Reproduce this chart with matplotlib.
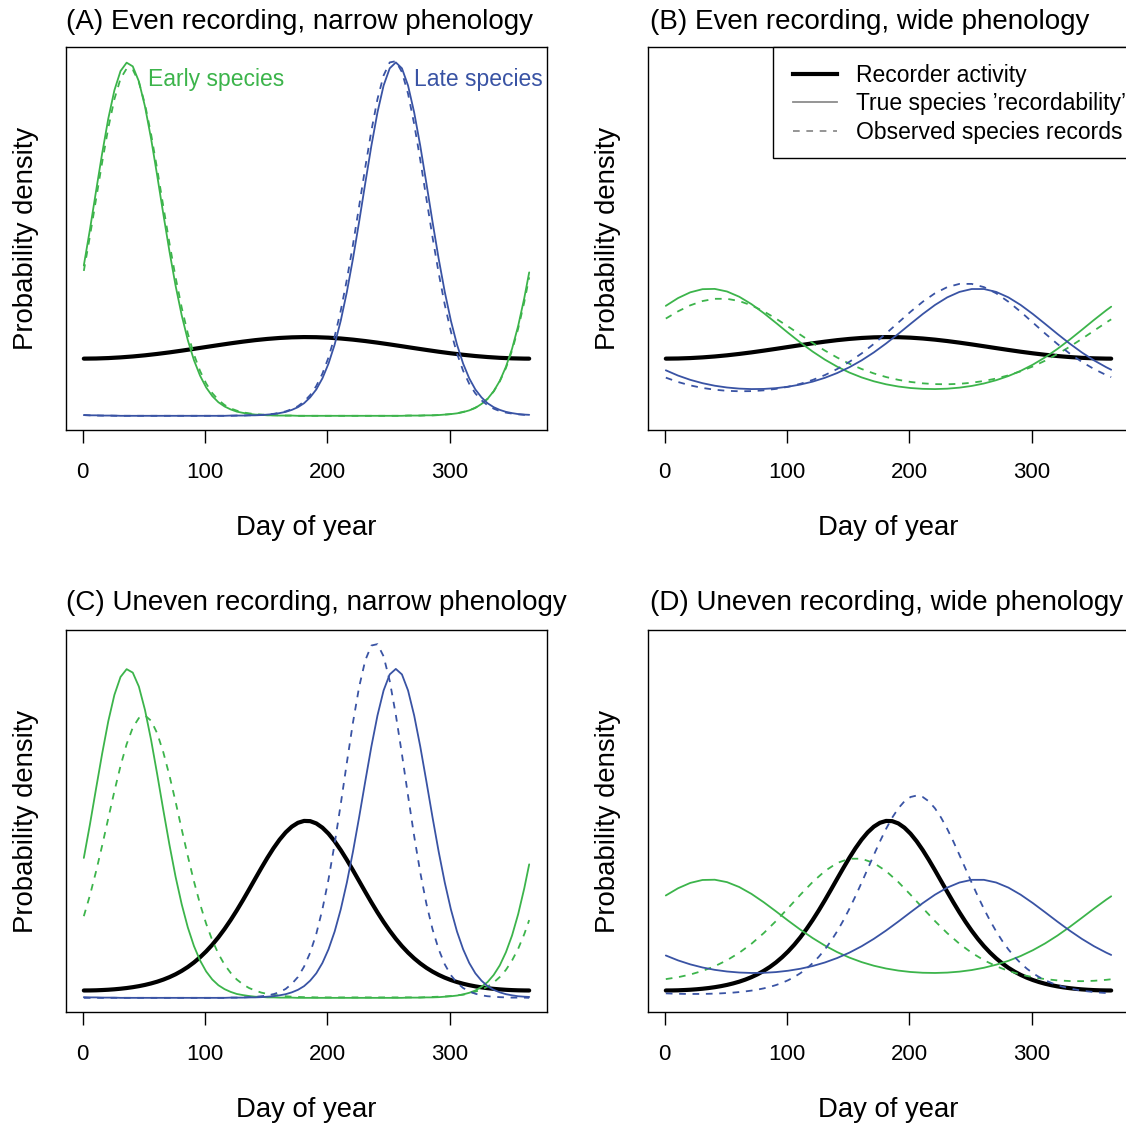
import matplotlib
matplotlib.use("Agg")
import matplotlib.pyplot as plt
from matplotlib.lines import Line2D
from matplotlib.patches import Rectangle

plt.rcParams['font.family'] = ['Liberation Sans', 'DejaVu Sans']

GREEN = '#3cb44b'
BLUE = '#3953a4'
GREY = '#8c8c8c'

# ---------------- data (probability density, x 1e-3 per day) ----------------
days_fine = list(range(1, 362, 5)) + [365]
days_coarse = list(range(1, 362, 10)) + [365]
xticks = [0, 100, 200, 300]

# recorder activity
rec_even = [2.320, 2.326, 2.343, 2.371, 2.408, 2.455, 2.511, 2.574, 2.644, 2.717,
            2.793, 2.868, 2.941, 3.009, 3.070, 3.120, 3.159, 3.184, 3.195, 3.190,
            3.171, 3.137, 3.091, 3.034, 2.969, 2.898, 2.823, 2.747, 2.673, 2.601,
            2.536, 2.477, 2.426, 2.385, 2.353, 2.332, 2.321, 2.320]          # coarse grid
rec_uneven = [0.321, 0.323, 0.329, 0.340, 0.354, 0.373, 0.398, 0.428, 0.465, 0.510,
              0.564, 0.629, 0.705, 0.796, 0.903, 1.028, 1.175, 1.345, 1.542, 1.769,
              2.026, 2.316, 2.641, 3.000, 3.391, 3.811, 4.255, 4.717, 5.187, 5.652,
              6.102, 6.522, 6.897, 7.215, 7.463, 7.632, 7.713, 7.704, 7.605, 7.420,
              7.157, 6.826, 6.441, 6.014, 5.560, 5.092, 4.624, 4.165, 3.725, 3.310,
              2.925, 2.573, 2.255, 1.972, 1.721, 1.501, 1.309, 1.144, 1.002, 0.880,
              0.777, 0.689, 0.615, 0.553, 0.501, 0.457, 0.422, 0.392, 0.369, 0.351,
              0.337, 0.328, 0.323, 0.321]                                      # fine grid

# narrow phenology (fine grid)
early_true_narrow = [6.10, 7.56, 9.12, 10.65, 12.06, 13.21, 13.99, 14.33, 14.18, 13.57,
                     12.55, 11.24, 9.74, 8.18, 6.67, 5.28, 4.08, 3.07, 2.26, 1.63,
                     1.15, 0.80, 0.55, 0.38, 0.26, 0.17, 0.12, 0.08, 0.05, 0.04,
                     0.02, 0.02, 0.01, 0.01, 0.01, 0.0, 0.0, 0.0, 0.0, 0.0,
                     0.0, 0.0, 0.0, 0.0, 0.0, 0.0, 0.0, 0.0, 0.0, 0.0,
                     0.0, 0.0, 0.0, 0.01, 0.01, 0.01, 0.02, 0.02, 0.03, 0.05,
                     0.07, 0.10, 0.15, 0.22, 0.32, 0.48, 0.69, 1.00, 1.42, 1.99,
                     2.72, 3.65, 4.78, 5.82]
late_true_narrow = [0.03, 0.02, 0.02, 0.01, 0.01, 0.01, 0.0, 0.0, 0.0, 0.0,
                    0.0, 0.0, 0.0, 0.0, 0.0, 0.0, 0.0, 0.0, 0.0, 0.0,
                    0.0, 0.0, 0.0, 0.0, 0.01, 0.01, 0.01, 0.02, 0.02, 0.03,
                    0.05, 0.07, 0.11, 0.16, 0.24, 0.35, 0.51, 0.75, 1.07, 1.52,
                    2.12, 2.89, 3.86, 5.03, 6.38, 7.87, 9.43, 10.95, 12.31, 13.40,
                    14.10, 14.34, 14.10, 13.40, 12.31, 10.95, 9.43, 7.87, 6.38, 5.03,
                    3.86, 2.89, 2.12, 1.52, 1.07, 0.75, 0.51, 0.35, 0.24, 0.16,
                    0.11, 0.07, 0.05, 0.04]
early_obs_A = [5.88, 7.29, 8.79, 10.29, 11.68, 12.85, 13.68, 14.09, 14.05, 13.54,
               12.64, 11.42, 10.00, 8.49, 7.00, 5.62, 4.39, 3.34, 2.49, 1.82,
               1.31, 0.92, 0.64, 0.44, 0.30, 0.21, 0.14, 0.10, 0.07, 0.05,
               0.03, 0.02, 0.02, 0.01, 0.01, 0.0, 0.0, 0.0, 0.0, 0.0,
               0.0, 0.0, 0.0, 0.0, 0.0, 0.0, 0.0, 0.0, 0.0, 0.0,
               0.0, 0.0, 0.0, 0.01, 0.01, 0.01, 0.02, 0.02, 0.03, 0.05,
               0.07, 0.10, 0.16, 0.22, 0.33, 0.48, 0.69, 0.99, 1.40, 1.94,
               2.65, 3.54, 4.62, 5.62]
late_obs_A = [0.03, 0.02, 0.01, 0.01, 0.01, 0.0, 0.0, 0.0, 0.0, 0.0,
              0.0, 0.0, 0.0, 0.0, 0.0, 0.0, 0.0, 0.0, 0.0, 0.0,
              0.0, 0.0, 0.0, 0.0, 0.0, 0.01, 0.01, 0.02, 0.02, 0.04,
              0.05, 0.08, 0.12, 0.18, 0.27, 0.39, 0.58, 0.84, 1.21, 1.71,
              2.37, 3.22, 4.27, 5.53, 6.95, 8.50, 10.07, 11.56, 12.85, 13.81,
              14.34, 14.39, 13.95, 13.07, 11.84, 10.38, 8.81, 7.25, 5.80, 4.51,
              3.42, 2.53, 1.83, 1.30, 0.91, 0.63, 0.43, 0.29, 0.19, 0.13,
              0.09, 0.06, 0.04, 0.03]
early_obs_C = [3.56, 4.47, 5.51, 6.64, 7.83, 9.01, 10.11, 11.06, 11.78, 12.20,
               12.31, 12.08, 11.53, 10.70, 9.69, 8.55, 7.35, 6.18, 5.08, 4.09,
               3.23, 2.51, 1.92, 1.45, 1.09, 0.80, 0.59, 0.43, 0.32, 0.23,
               0.17, 0.13, 0.10, 0.07, 0.05, 0.04, 0.03, 0.03, 0.02, 0.02,
               0.02, 0.02, 0.02, 0.02, 0.02, 0.02, 0.02, 0.02, 0.02, 0.02,
               0.02, 0.02, 0.02, 0.02, 0.02, 0.02, 0.03, 0.04, 0.05, 0.06,
               0.08, 0.11, 0.14, 0.19, 0.27, 0.36, 0.49, 0.67, 0.91, 1.22,
               1.63, 2.14, 2.78, 3.39]
late_obs_C = [0.0, 0.0, 0.0, 0.0, 0.0, 0.0, 0.0, 0.0, 0.0, 0.0,
              0.0, 0.0, 0.0, 0.0, 0.0, 0.0, 0.0, 0.0, 0.0, 0.0,
              0.0, 0.0, 0.0, 0.0, 0.01, 0.01, 0.02, 0.03, 0.04, 0.07,
              0.10, 0.16, 0.25, 0.39, 0.61, 0.91, 1.36, 1.97, 2.79, 3.86,
              5.17, 6.72, 8.45, 10.26, 12.01, 13.55, 14.71, 15.36, 15.42, 14.89,
              13.82, 12.34, 10.62, 8.81, 7.05, 5.46, 4.10, 2.99, 2.12, 1.46,
              0.99, 0.66, 0.43, 0.28, 0.18, 0.11, 0.07, 0.05, 0.03, 0.02,
              0.01, 0.01, 0.01, 0.0]

# wide phenology (coarse grid unless noted)
early_true_wide = [4.463, 4.778, 5.011, 5.139, 5.150, 5.045, 4.832, 4.532, 4.169, 3.772,
                   3.365, 2.972, 2.607, 2.280, 1.996, 1.756, 1.559, 1.401, 1.279, 1.189,
                   1.128, 1.094, 1.085, 1.101, 1.143, 1.212, 1.312, 1.445, 1.614, 1.824,
                   2.077, 2.373, 2.712, 3.088, 3.487, 3.893, 4.283, 4.428]
late_true_wide = [1.847, 1.633, 1.460, 1.324, 1.221, 1.149, 1.104, 1.085, 1.091, 1.123,
                  1.182, 1.269, 1.387, 1.542, 1.735, 1.970, 2.249, 2.572, 2.934, 3.325,
                  3.731, 4.130, 4.498, 4.806, 5.028, 5.145, 5.145, 5.028, 4.806, 4.498,
                  4.130, 3.731, 3.325, 2.934, 2.572, 2.249, 1.970, 1.871]
early_obs_B = [3.946, 4.240, 4.483, 4.657, 4.748, 4.748, 4.657, 4.483, 4.240, 3.946,
               3.622, 3.288, 2.958, 2.648, 2.365, 2.115, 1.900, 1.721, 1.574, 1.460,
               1.375, 1.318, 1.286, 1.280, 1.298, 1.343, 1.414, 1.513, 1.643, 1.806,
               2.004, 2.236, 2.503, 2.800, 3.121, 3.455, 3.787, 3.915]
late_obs_B = [1.549, 1.372, 1.234, 1.131, 1.059, 1.014, 0.996, 1.002, 1.033, 1.092,
              1.179, 1.299, 1.455, 1.653, 1.897, 2.189, 2.530, 2.917, 3.340, 3.783,
              4.222, 4.629, 4.973, 5.222, 5.353, 5.353, 5.222, 4.973, 4.629, 4.222,
              3.783, 3.340, 2.917, 2.530, 2.189, 1.897, 1.653, 1.569]
early_obs_D = [0.817, 0.900, 1.017, 1.174, 1.379, 1.640, 1.964, 2.358, 2.821, 3.346,
               3.915, 4.496, 5.050, 5.527, 5.879, 6.066, 6.066, 5.879, 5.527, 5.050,
               4.496, 3.915, 3.346, 2.821, 2.358, 1.964, 1.640, 1.379, 1.174, 1.017,
               0.900, 0.817, 0.762, 0.733, 0.727, 0.744, 0.786, 0.811]
late_obs_D = [0.196, 0.185, 0.177, 0.172, 0.170, 0.170, 0.172, 0.177, 0.185, 0.196,
              0.211, 0.229, 0.252, 0.281, 0.316, 0.360, 0.413, 0.478, 0.557, 0.653,
              0.769, 0.909, 1.076, 1.276, 1.512, 1.789, 2.110, 2.479, 2.898, 3.365,
              3.879, 4.433, 5.019, 5.623, 6.228, 6.817, 7.366, 7.854, 8.261, 8.566,
              8.756, 8.820, 8.756, 8.566, 8.261, 7.854, 7.366, 6.817, 6.228, 5.623,
              5.019, 4.433, 3.879, 3.365, 2.898, 2.479, 2.110, 1.789, 1.512, 1.276,
              1.076, 0.909, 0.769, 0.653, 0.557, 0.478, 0.413, 0.360, 0.316, 0.281,
              0.252, 0.229, 0.211, 0.199]                                        # fine grid

titles = ["(A) Even recording, narrow phenology",
          "(B) Even recording, wide phenology",
          "(C) Uneven recording, narrow phenology",
          "(D) Uneven recording, wide phenology"]
legend_labels = ["Recorder activity",
                 "True species \u2019recordability\u2019",
                 "Observed species records"]

# ---------------- layout ----------------
W = H = 1126.0
fig = plt.figure(figsize=(11.26, 11.26), dpi=100)


def add_ax(left, top, w, h):
    return fig.add_axes([left / W, 1 - (top + h) / H, w / W, h / H])


axA = add_ax(66, 47, 481, 383)
axB = add_ax(648, 47, 481, 383)
axC = add_ax(66, 630, 481, 382)
axD = add_ax(648, 630, 481, 382)


def r_lim(values, pad=0.04):
    lo, hi = min(values), max(values)
    r = hi - lo
    return lo - pad * r, hi + pad * r


ylim_top = r_lim(early_true_narrow + late_true_narrow + early_obs_A + late_obs_A + rec_even)
ylim_bot = r_lim(early_true_narrow + late_true_narrow + early_obs_C + late_obs_C + rec_uneven)
xlim = r_lim([1, 365])

LW_BLACK = 3.0
LW_COL = 1.3
DASH = (3.7, 3.7)


def panel(ax, rec_days, rec, curves, ylim):
    ax.plot(rec_days, rec, color='black', lw=LW_BLACK, solid_capstyle='round',
            solid_joinstyle='round', zorder=2)
    for d, y, col, dashed in curves:
        if dashed:
            ax.plot(d, y, color=col, lw=LW_COL, dashes=DASH, zorder=3)
        else:
            ax.plot(d, y, color=col, lw=LW_COL, solid_capstyle='round', zorder=3)
    ax.set_xlim(*xlim)
    ax.set_ylim(*ylim)
    ax.set_xticks(xticks)
    ax.set_yticks([])
    ax.tick_params(axis='x', length=9, width=1.0, pad=14, labelsize=16, direction='out',
                   colors='black')
    for s in ax.spines.values():
        s.set_linewidth(1.0)
        s.set_color('black')
    ax.set_xlabel('Day of year', fontsize=19.8)
    ax.xaxis.set_label_coords(0.5, -0.222)
    ax.set_ylabel('Probability density', fontsize=19.8)
    ax.yaxis.set_label_coords(-0.0565, 0.5)


panel(axA, days_coarse, rec_even,
      [(days_fine, early_true_narrow, GREEN, False), (days_fine, early_obs_A, GREEN, True),
       (days_fine, late_true_narrow, BLUE, False), (days_fine, late_obs_A, BLUE, True)],
      ylim_top)
panel(axB, days_coarse, rec_even,
      [(days_coarse, early_true_wide, GREEN, False), (days_coarse, early_obs_B, GREEN, True),
       (days_coarse, late_true_wide, BLUE, False), (days_coarse, late_obs_B, BLUE, True)],
      ylim_top)
panel(axC, days_fine, rec_uneven,
      [(days_fine, early_true_narrow, GREEN, False), (days_fine, early_obs_C, GREEN, True),
       (days_fine, late_true_narrow, BLUE, False), (days_fine, late_obs_C, BLUE, True)],
      ylim_bot)
panel(axD, days_fine, rec_uneven,
      [(days_coarse, early_true_wide, GREEN, False), (days_coarse, early_obs_D, GREEN, True),
       (days_coarse, late_true_wide, BLUE, False), (days_fine, late_obs_D, BLUE, True)],
      ylim_bot)

# titles
for (x, y), t in zip([(66, 29), (650, 29), (66, 610), (650, 610)], titles):
    fig.text(x / W, 1 - y / H, t, ha='left', va='baseline', fontsize=20.0)

# species annotations in panel A
axA.text(53.4, 13.39, "Early species", color=GREEN, fontsize=16.5, ha='left', va='baseline')
axA.text(270.8, 13.39, "Late species", color=BLUE, fontsize=16.5, ha='left', va='baseline')

# legend in panel B
handles = [Line2D([], [], color='black', lw=LW_BLACK),
           Line2D([], [], color=GREY, lw=LW_COL),
           Line2D([], [], color=GREY, lw=LW_COL, dashes=DASH)]
axB.add_patch(Rectangle((0.2593, 0.711), 0.7407, 0.289, transform=axB.transAxes,
                        facecolor='white', edgecolor='black', lw=1.0, zorder=4, clip_on=False))
leg = axB.legend(handles, legend_labels, loc='upper left', bbox_to_anchor=(0.3015, 0.9555),
                 frameon=False, fontsize=16.5, handlelength=1.9, handletextpad=0.83,
                 borderpad=0, labelspacing=0.23, borderaxespad=0)
leg.set_zorder(5)

fig.savefig('out.png', dpi=100)
